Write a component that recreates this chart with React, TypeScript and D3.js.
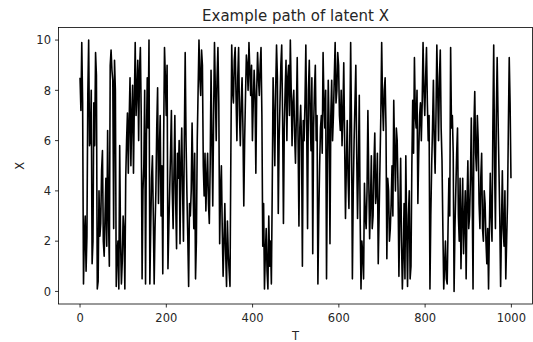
import React from "react";
import * as d3 from "d3";

// Sampled path of the latent state X (one value every ~2 steps of T)
const xValues: number[] = [
  8.5, 7.2, 9.9, 7.5, 0.3, 2.2, 3.0, 0.8, 2.2, 7.8,
  10.0, 5.8, 6.0, 8.0, 1.1, 2.0, 7.5, 5.8, 9.5, 8.6,
  0.1, 0.4, 4.0, 2.2, 2.7, 4.8, 5.6, 2.0, 1.4, 3.0,
  4.5, 1.8, 6.4, 3.0, 1.0, 9.0, 9.6, 8.8, 8.4, 2.5,
  9.2, 8.0, 0.2, 1.5, 2.0, 0.1, 5.8, 2.0, 0.3, 1.2,
  3.0, 2.4, 0.1, 4.5, 6.0, 7.1, 4.7, 6.8, 8.5, 5.0,
  7.0, 8.2, 4.7, 7.5, 9.9, 7.0, 8.0, 9.2, 6.0, 8.8,
  9.7, 7.0, 0.5, 4.0, 5.0, 8.0, 0.3, 6.0, 8.5, 6.5,
  10.0, 0.3, 2.5, 4.5, 5.4, 3.0, 0.3, 2.5, 4.0, 6.5,
  8.1, 3.5, 5.5, 7.0, 3.0, 5.0, 0.7, 6.0, 9.7, 8.5,
  7.0, 9.0, 0.9, 2.5, 4.0, 5.5, 7.2, 4.0, 2.5, 4.8,
  7.0, 3.5, 1.7, 5.5, 4.5, 6.0, 1.9, 5.0, 6.5, 4.0,
  2.0, 6.0, 9.5, 6.0, 3.9, 2.2, 0.2, 3.5, 3.0, 4.0,
  6.7, 4.5, 2.5, 5.5, 0.5, 2.0, 6.0, 8.0, 10.0, 8.5,
  7.8, 9.6, 9.0, 5.0, 3.8, 5.5, 3.2, 4.5, 5.5, 3.5,
  2.7, 5.0, 8.8, 6.0, 3.4, 7.0, 9.9, 8.0, 6.0, 8.5,
  9.7, 7.5, 1.9, 4.0, 5.0, 2.5, 0.6, 2.0, 3.5, 1.5,
  0.2, 2.8, 1.5, 0.8, 0.2, 5.5, 9.8, 8.0, 7.5, 9.2,
  9.7, 7.8, 6.0, 8.5, 9.7, 7.0, 5.8, 7.5, 8.5, 6.5,
  3.4, 6.0, 7.8, 9.4, 9.0, 8.0, 9.9, 8.8, 7.8, 9.0,
  6.0, 7.5, 8.8, 7.8, 4.7, 8.0, 9.5, 8.5, 7.8, 9.0,
  9.7, 7.0, 1.8, 3.5, 0.1, 1.5, 2.5, 0.8, 0.1, 3.0,
  1.0, 2.0, 0.3, 4.0, 8.5, 7.0, 5.0, 8.0, 9.8, 8.5,
  3.1, 6.0, 7.5, 9.0, 9.8, 7.0, 2.7, 6.5, 8.0, 9.2,
  6.0, 8.5, 9.0, 7.0, 10.0, 8.0, 5.8, 7.5, 8.0, 6.2,
  5.1, 7.0, 9.3, 6.0, 2.6, 6.5, 7.4, 6.0, 1.0, 6.8,
  6.0, 7.5, 9.8, 6.5, 2.5, 8.0, 9.2, 7.0, 5.6, 8.5,
  1.5, 6.5, 8.0, 9.0, 6.0, 7.0, 0.3, 3.0, 5.0, 6.5,
  7.0, 5.5, 9.5, 7.5, 6.5, 8.0, 0.5, 5.0, 8.4, 6.5,
  1.9, 7.0, 8.4, 6.0, 7.0, 8.5, 9.9, 7.5, 8.0, 9.5,
  9.0, 7.0, 6.4, 8.0, 5.8, 7.0, 9.1, 6.0, 2.9, 5.0,
  6.8, 4.5, 3.3, 6.0, 9.9, 6.5, 0.5, 4.0, 6.0, 7.5,
  9.0, 5.5, 2.9, 5.0, 7.8, 3.0, 0.1, 2.0, 1.5, 0.5,
  4.3, 3.0, 2.5, 4.0, 7.2, 4.5, 2.1, 3.5, 5.4, 2.5,
  3.0, 5.0, 6.3, 3.5, 4.0, 5.5, 1.1, 3.0, 5.0, 7.0,
  9.9, 7.5, 6.4, 8.0, 8.5, 6.5, 1.3, 4.5, 4.0, 2.0,
  2.5, 3.5, 5.0, 3.0, 7.6, 5.5, 4.0, 6.5, 6.0, 4.0,
  0.6, 3.0, 5.3, 2.0, 0.1, 1.5, 3.5, 0.5, 5.4, 2.5,
  0.2, 3.0, 4.0, 0.5, 1.0, 5.0, 7.6, 5.5, 9.3, 7.0,
  6.5, 8.0, 3.5, 5.5, 7.0, 7.5, 6.0, 7.5, 9.9, 8.0,
  7.0, 8.5, 9.7, 7.5, 6.0, 7.0, 0.1, 3.0, 5.0, 6.5,
  8.4, 6.0, 4.7, 7.0, 9.8, 8.0, 6.0, 8.5, 9.6, 6.5,
  5.2, 2.5, 0.1, 1.0, 2.0, 0.5, 0.3, 2.5, 4.5, 3.0,
  9.7, 6.5, 7.0, 5.5, 0.0, 2.5, 4.0, 5.5, 6.5, 3.0,
  2.0, 4.5, 0.9, 3.0, 4.5, 1.5, 2.8, 4.0, 0.5, 3.5,
  5.2, 2.5, 3.0, 4.5, 6.9, 4.0, 0.1, 6.5, 7.95, 5.5,
  4.8, 7.0, 6.0, 3.5, 2.5, 4.5, 5.5, 2.5, 2.0, 4.0,
  3.5, 2.0, 1.1, 2.5, 0.1, 2.5, 4.7, 3.0, 2.0, 6.5,
  9.8, 5.0, 2.5, 7.0, 9.3, 7.0, 5.0, 3.0, 0.2, 2.5,
  4.8, 2.5, 1.8, 4.0, 0.5, 2.0, 3.5, 6.5, 9.3, 7.5,
  4.5,
];

const tMax = 999;
const xTicks = [0, 200, 400, 600, 800, 1000];
const yTicks = [0, 2, 4, 6, 8, 10];
const title = "Example path of latent X";
const xLabel = "T";
const yLabel = "X";

const W = 533;
const H = 342;
const plot = { left: 58.5, right: 532.5, top: 27.5, bottom: 304 };

export default function App() {
  const step = tMax / (xValues.length - 1);
  const points: [number, number][] = xValues.map((v, i) => [i * step, v]);

  const tPad = tMax * 0.05;
  const x = d3.scaleLinear().domain([-tPad, tMax + tPad]).range([plot.left, plot.right]);
  const yMin = d3.min(xValues) as number;
  const yMax = d3.max(xValues) as number;
  const yPad = (yMax - yMin) * 0.05;
  const y = d3.scaleLinear().domain([yMin - yPad, yMax + yPad]).range([plot.bottom, plot.top]);

  const line = d3
    .line<[number, number]>()
    .x((d) => x(d[0]))
    .y((d) => y(d[1]));

  const font = "DejaVu Sans, sans-serif";
  const textColor = "#262626";
  const tickSize = 11.5;

  return (
    <div style={{ position: "absolute", left: 0, top: 0 }}>
      <svg width={W} height={H} style={{ display: "block", background: "#fff" }}>
        <rect x={0} y={0} width={W} height={H} fill="#fff" />
        <path d={line(points) || ""} fill="none" stroke="#000" strokeWidth={1.6} strokeLinejoin="round" />

        {/* frame */}
        <rect
          x={plot.left}
          y={plot.top}
          width={plot.right - plot.left}
          height={plot.bottom - plot.top}
          fill="none"
          stroke="#000"
          strokeWidth={0.8}
        />

        {/* x axis */}
        {xTicks.map((t) => (
          <g key={`xt${t}`}>
            <line x1={x(t)} x2={x(t)} y1={plot.bottom} y2={plot.bottom + 3.5} stroke="#000" strokeWidth={0.8} />
            <text x={x(t)} y={322.2} textAnchor="middle" fontFamily={font} fontSize={tickSize} fill={textColor}>
              {t}
            </text>
          </g>
        ))}

        {/* y axis */}
        {yTicks.map((t) => (
          <g key={`yt${t}`}>
            <line x1={plot.left - 3.5} x2={plot.left} y1={y(t)} y2={y(t)} stroke="#000" strokeWidth={0.8} />
            <text
              x={plot.left - 7.5}
              y={y(t) + 4.2}
              textAnchor="end"
              fontFamily={font}
              fontSize={tickSize}
              fill={textColor}
            >
              {t}
            </text>
          </g>
        ))}

        <text
          x={(plot.left + plot.right) / 2}
          y={20.5}
          textAnchor="middle"
          fontFamily={font}
          fontSize={15}
          fill={textColor}
        >
          {title}
        </text>
        <text
          x={(plot.left + plot.right) / 2}
          y={339.5}
          textAnchor="middle"
          fontFamily={font}
          fontSize={tickSize}
          fill={textColor}
        >
          {xLabel}
        </text>
        <text
          transform={`translate(24, ${(plot.top + plot.bottom) / 2}) rotate(-90)`}
          textAnchor="middle"
          fontFamily={font}
          fontSize={tickSize}
          fill={textColor}
        >
          {yLabel}
        </text>
      </svg>
    </div>
  );
}
